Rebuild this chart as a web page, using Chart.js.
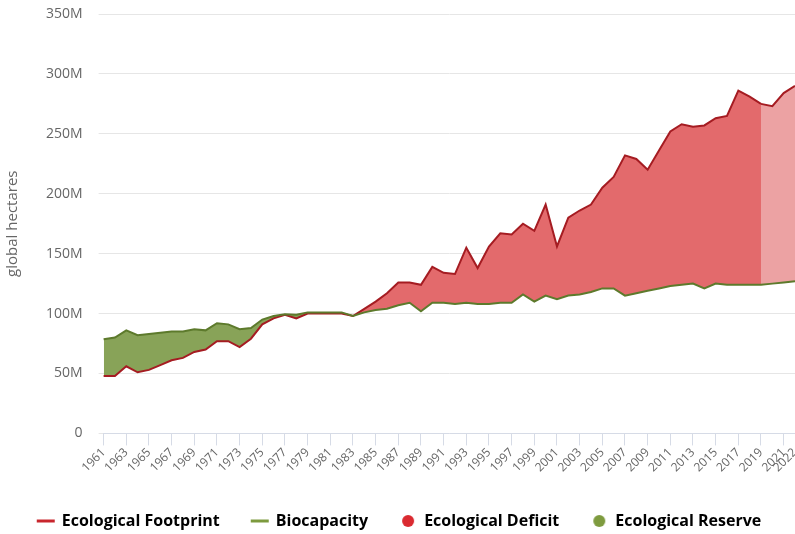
<!DOCTYPE html>
<html>
<head>
<meta charset="utf-8">
<script src="https://cdn.jsdelivr.net/npm/chart.js@4"></script>
<style>
  html, body { margin: 0; padding: 0; background: #fff; }
  #wrap { position: relative; width: 795px; height: 534px; }
</style>
</head>
<body>
<div id="wrap"><canvas id="chart"></canvas></div>
<script>
// years on the x axis
const years = [1961, 1962, 1963, 1964, 1965, 1966, 1967, 1968, 1969, 1970,
  1971, 1972, 1973, 1974, 1975, 1976, 1977, 1978, 1979, 1980,
  1981, 1982, 1983, 1984, 1985, 1986, 1987, 1988, 1989, 1990,
  1991, 1992, 1993, 1994, 1995, 1996, 1997, 1998, 1999, 2000,
  2001, 2002, 2003, 2004, 2005, 2006, 2007, 2008, 2009, 2010,
  2011, 2012, 2013, 2014, 2015, 2016, 2017, 2018, 2019, 2020,
  2021, 2022];

// years that get a label and a tick mark
const tickYears = [1961, 1963, 1965, 1967, 1969, 1971, 1973, 1975, 1977, 1979,
  1981, 1983, 1985, 1987, 1989, 1991, 1993, 1995, 1997, 1999,
  2001, 2003, 2005, 2007, 2009, 2011, 2013, 2015, 2017, 2019,
  2021, 2022];

// million global hectares
const footprint = [48, 48, 56, 51, 53, 57, 61, 63, 68, 70,
  77, 77, 72, 79, 91, 96, 99, 96, 100, 100,
  100, 100, 98, 104, 110, 117, 126, 126, 124, 139,
  134, 133, 155, 138, 156, 167, 166, 175, 169, 191,
  156, 180, 186, 191, 205, 214, 232, 229, 220, 236,
  252, 258, 256, 257, 263, 265, 286, 281, 275, 273,
  284, 290];

const biocapacity = [78.5, 80, 86, 82, 83, 84, 85, 85, 87, 86,
  92, 91, 87, 88, 95, 98, 99.5, 99, 101, 101,
  101, 101, 98, 101, 103, 104, 107, 109, 102, 109,
  109, 108, 109, 108, 108, 109, 109, 116, 110, 115,
  112, 115, 116, 118, 121, 121, 115, 117, 119, 121,
  123, 124, 125, 121, 125, 124, 124, 124, 124, 125,
  126, 127];

const yTicks = [0, 50, 100, 150, 200, 250, 300, 350];

// from this year on the deficit is drawn lighter
const nowcastFrom = 2019;

const legendNames = ['Ecological Footprint', 'Biocapacity', 'Ecological Deficit', 'Ecological Reserve'];

const colors = {
    footprint: '#a51c22',
    biocapacity: '#5d7a2c',
    deficit: '#e36a6c',
    deficitLight: '#eca2a3',
    reserve: '#88a358',
    reserveLight: '#c2d2a4',
    legendFootprint: '#c8262d',
    legendBiocap: '#7d9a3e',
    legendDeficit: '#da2a30',
    legendReserve: '#7e9b3f'
};

function legendIcon(type, color) {
    const c = document.createElement('canvas');
    c.width = 20;
    c.height = 14;
    const g = c.getContext('2d');
    g.fillStyle = color;
    g.strokeStyle = color;
    g.beginPath();
    if (type === 'line') {
        g.lineWidth = 3;
        g.moveTo(1, 7);
        g.lineTo(19, 7);
        g.stroke();
    } else {
        g.arc(10, 7, 6, 0, Math.PI * 2);
        g.fill();
    }
    return c;
}

const icons = [
    legendIcon('line', colors.legendFootprint),
    legendIcon('line', colors.legendBiocap),
    legendIcon('circle', colors.legendDeficit),
    legendIcon('circle', colors.legendReserve)
];

Chart.defaults.font.family = "'Open Sans', sans-serif";
Chart.defaults.color = '#666';

const ctx = document.getElementById('chart').getContext('2d');
new Chart(ctx, {
    type: 'line',
    data: {
        labels: years,
        datasets: [
            {
                label: 'Ecological Footprint',
                data: footprint.map((v, i) => years[i] <= nowcastFrom ? v : null),
                borderColor: colors.footprint,
                borderWidth: 2,
                pointRadius: 0,
                tension: 0,
                fill: { target: 2, above: colors.deficit, below: colors.reserve }
            },
            {
                label: 'Ecological Footprint (nowcast)',
                data: footprint.map((v, i) => years[i] >= nowcastFrom ? v : null),
                borderColor: colors.footprint,
                borderWidth: 2,
                pointRadius: 0,
                tension: 0,
                fill: { target: 2, above: colors.deficitLight, below: colors.reserveLight }
            },
            {
                label: 'Biocapacity',
                data: biocapacity,
                borderColor: colors.biocapacity,
                borderWidth: 2,
                pointRadius: 0,
                tension: 0,
                fill: false,
                order: -1
            }
        ]
    },
    options: {
        responsive: true,
        maintainAspectRatio: false,
        animation: false,
        layout: { padding: { left: 4, right: 0, top: 0, bottom: -5 } },
        scales: {
            x: {
                ticks: {
                    autoSkip: false,
                    minRotation: 45,
                    maxRotation: 45,
                    padding: 0,
                    color: '#666',
                    font: { size: 12 }
                },
                grid: { drawOnChartArea: false, tickLength: 12, color: '#d6dbe6' },
                border: { color: '#d6dbe6' },
                afterBuildTicks: function (scale) {
                    scale.ticks = scale.ticks.filter(t => tickYears.includes(years[t.value]));
                },
                afterFit: function (scale) {
                    scale.paddingRight = 0;
                    scale.height += 6;
                }
            },
            y: {
                min: 0,
                max: 350,
                afterBuildTicks: function (scale) {
                    scale.ticks = yTicks.map(v => ({ value: v }));
                },
                afterFit: function (scale) {
                    scale.paddingTop = 14;
                    scale.paddingBottom = 8;
                },
                ticks: {
                    padding: 16,
                    color: '#666',
                    font: { size: 14 },
                    callback: function (value) {
                        return value === 0 ? '0' : value + 'M';
                    }
                },
                grid: { color: '#e6e6e6', tickLength: 5 },
                border: { display: false },
                title: {
                    display: true,
                    text: 'global hectares',
                    color: '#666',
                    font: { size: 15 },
                    padding: { top: 0, bottom: 8 }
                }
            }
        },
        plugins: {
            legend: {
                position: 'bottom',
                onClick: null,
                labels: {
                    usePointStyle: true,
                    boxWidth: 16,
                    boxHeight: 16,
                    padding: 32,
                    color: '#333',
                    font: { size: 16, weight: 'bold' },
                    generateLabels: function () {
                        return legendNames.map((name, i) => ({
                            text: name,
                            pointStyle: icons[i],
                            fillStyle: 'transparent',
                            strokeStyle: 'transparent',
                            lineWidth: 0,
                            hidden: false,
                            datasetIndex: i
                        }));
                    }
                }
            },
            tooltip: { enabled: false }
        }
    }
});
</script>
</body>
</html>
